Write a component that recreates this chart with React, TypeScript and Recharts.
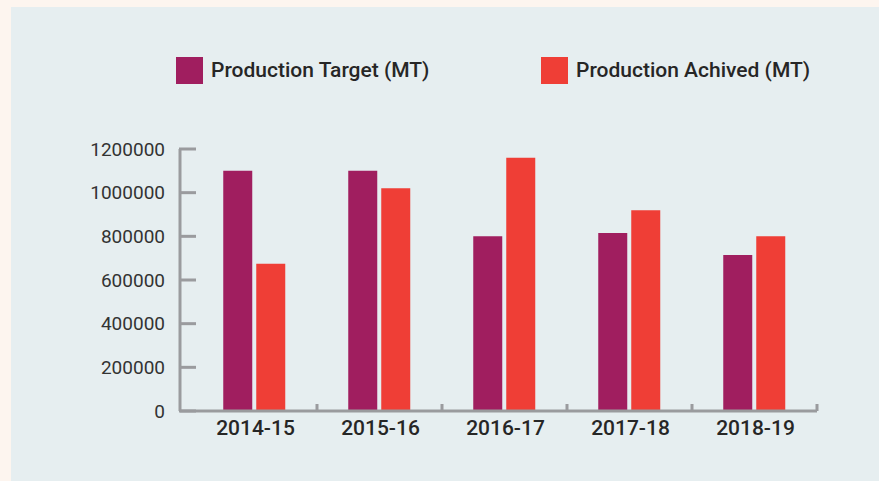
import React from 'react';
import { BarChart, Bar, XAxis, YAxis, Legend } from 'recharts';

const categories = ['2014-15', '2015-16', '2016-17', '2017-18', '2018-19'];
const productionTarget = [1100000, 1100000, 800000, 815000, 715000];
const productionAchieved = [675000, 1020000, 1160000, 920000, 800000];
const yTicks = [0, 200000, 400000, 600000, 800000, 1000000, 1200000];
const seriesNames = ['Production Target (MT)', 'Production Achived (MT)'];

const data = categories.map((c, i) => ({
  year: c,
  target: productionTarget[i],
  achieved: productionAchieved[i],
}));

const FONT = "Roboto, 'Liberation Sans', sans-serif";
const AXIS = '#9a9b9e';
const TARGET = '#a01e5f';
const ACHIEVED = '#ef3e36';

const YTick = (props: any) => {
  const { x, y, payload } = props;
  return (
    <g>
      <line x1={x - 1} x2={x + 16} y1={y} y2={y} stroke={AXIS} strokeWidth={3} />
      <text
        x={x - 15}
        y={y}
        textAnchor="end"
        dominantBaseline="central"
        fontSize={19}
        fontFamily={FONT}
        fill="#333333"
      >
        {payload.value}
      </text>
    </g>
  );
};

const XTick = (props: any) => {
  const { x, y, payload } = props;
  const off = payload.offset ?? 0;
  const bx = x + off;
  return (
    <g>
      <line x1={bx} x2={bx} y1={y} y2={y - 7} stroke={AXIS} strokeWidth={3} />
      <text
        x={x + 1}
        y={y + 17}
        textAnchor="middle"
        dominantBaseline="central"
        fontSize={21}
        fontWeight={500}
        fontFamily={FONT}
        fill="#262626"
      >
        {payload.value}
      </text>
    </g>
  );
};

const LegendContent = (props: any) => {
  const items = [...(props.payload || [])].sort(
    (a: any, b: any) => seriesNames.indexOf(a.value) - seriesNames.indexOf(b.value)
  );
  return (
    <div style={{ display: 'flex', paddingLeft: 176, fontFamily: FONT }}>
      {items.map((p: any, i: number) => (
        <div
          key={i}
          style={{ display: 'flex', alignItems: 'center', width: i === 0 ? 365 : 'auto' }}
        >
          <span
            style={{ display: 'inline-block', width: 27, height: 27, background: p.color, marginRight: 8 }}
          />
          <span style={{ fontSize: 21, fontWeight: 500, color: '#262626', lineHeight: '27px' }}>{p.value}</span>
        </div>
      ))}
    </div>
  );
};

export default function App() {
  return (
    <div style={{ position: 'absolute', left: 0, top: 0, width: 879, height: 481, background: '#fdf5ef', overflow: 'hidden' }}>
      <div style={{ position: 'absolute', left: 11, top: 7, width: 868, height: 474, background: '#e6eef0' }} />
      <div style={{ position: 'absolute', left: 0, top: 0 }}>
        <BarChart
          width={879}
          height={481}
          data={data}
          margin={{ top: 149, right: 62, left: 0, bottom: 30 }}
          barCategoryGap="25%"
          barGap={4}
        >
          <XAxis
            dataKey="year"
            height={40}
            padding={{ left: 12, right: 0 }}
            axisLine={{ stroke: AXIS, strokeWidth: 3 }}
            tickLine={false}
            tickSize={0}
            tickMargin={0}
            tick={<XTick />}
            interval={0}
          />
          <YAxis
            width={180}
            domain={[0, 1200000]}
            ticks={yTicks}
            interval={0}
            axisLine={{ stroke: AXIS, strokeWidth: 3 }}
            tickLine={false}
            tickSize={0}
            tickMargin={0}
            tick={<YTick />}
          />
          <Legend
            layout="horizontal"
            verticalAlign="middle"
            align="center"
            wrapperStyle={{ top: 57, left: 0, width: 879, height: 27 }}
            content={<LegendContent />}
          />
          <Bar dataKey="target" name={seriesNames[0]} fill={TARGET} isAnimationActive={false} />
          <Bar dataKey="achieved" name={seriesNames[1]} fill={ACHIEVED} isAnimationActive={false} />
        </BarChart>
      </div>
    </div>
  );
}
